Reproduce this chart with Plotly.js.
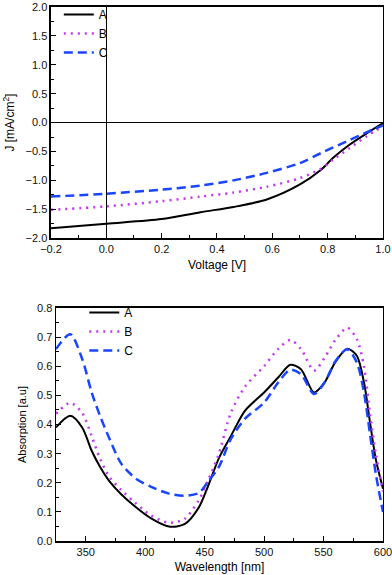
<!DOCTYPE html>
<html>
<head>
<meta charset="utf-8">
<script src="https://cdn.plot.ly/plotly-3.0.1.min.js"></script>
<style>body{margin:0;background:#fff}#chart{width:392px;height:575px}</style>
</head>
<body>
<div id="chart"></div>
<script>
// J-V curves
var voltage = [-0.2, 0, 0.2, 0.34, 0.46, 0.58, 0.70, 0.775, 0.82, 0.88, 0.94, 1.0];
var jA = [-1.83, -1.75, -1.67, -1.55, -1.46, -1.33, -1.07, -0.82, -0.61, -0.38, -0.19, -0.01];
var jB = [-1.51, -1.45, -1.36, -1.28, -1.21, -1.11, -0.96, -0.80, -0.64, -0.44, -0.24, -0.06];
var jC = [-1.28, -1.23, -1.16, -1.09, -1.00, -0.87, -0.70, -0.53, -0.43, -0.30, -0.17, -0.05];

// absorption spectra
var wavelength = [325, 337, 347, 355, 362, 370, 380, 392, 405, 420, 433, 445, 453, 462, 472, 484, 500, 512, 522, 531, 542, 551, 560, 570, 578, 584, 589, 594, 600];
var absA = [0.39, 0.43, 0.39, 0.31, 0.255, 0.205, 0.16, 0.117, 0.078, 0.05, 0.058, 0.115, 0.19, 0.285, 0.36, 0.448, 0.51, 0.562, 0.605, 0.59, 0.51, 0.545, 0.615, 0.66, 0.636, 0.545, 0.41, 0.28, 0.18];
var absB = [0.437, 0.474, 0.44, 0.36, 0.283, 0.22, 0.175, 0.13, 0.088, 0.063, 0.076, 0.14, 0.21, 0.30, 0.44, 0.53, 0.60, 0.66, 0.69, 0.659, 0.585, 0.63, 0.69, 0.732, 0.693, 0.60, 0.44, 0.30, 0.17];
var absC = [0.659, 0.71, 0.625, 0.51, 0.43, 0.351, 0.265, 0.215, 0.186, 0.163, 0.156, 0.165, 0.205, 0.255, 0.35, 0.42, 0.475, 0.545, 0.588, 0.573, 0.505, 0.545, 0.617, 0.658, 0.613, 0.51, 0.37, 0.23, 0.10];

var names = ['A', 'B', 'C'];
var styles = [
  {color: '#000000', width: 2, dash: 'solid'},
  {color: '#c535f5', width: 2.5, dash: '2px,5px'},
  {color: '#1a45ff', width: 2.5, dash: '9px,5px'}
];

var data = [];
[jA, jB, jC].forEach(function (ys, i) {
  data.push({x: voltage, y: ys, name: names[i], type: 'scatter', mode: 'lines',
    line: Object.assign({shape: 'spline', smoothing: 0.8}, styles[i]), legend: 'legend'});
});
[absA, absB, absC].forEach(function (ys, i) {
  data.push({x: wavelength, y: ys, name: names[i], type: 'scatter', mode: 'lines',
    xaxis: 'x2', yaxis: 'y2',
    line: Object.assign({shape: 'spline', smoothing: 0.8}, styles[i]), legend: 'legend2'});
});

var axisBase = {
  showgrid: false, showline: true, linecolor: '#000', linewidth: 1.5, mirror: true,
  ticks: 'inside', ticklen: 5, tickcolor: '#000', tickwidth: 1,
  tickfont: {size: 11, color: '#111'}, zeroline: false, ticklabeloverflow: 'allow'
};
function ax(extra) { return Object.assign({}, axisBase, extra); }

var layout = {
  width: 392, height: 575,
  margin: {t: 0, b: 0, l: 0, r: 0},
  paper_bgcolor: '#fff', plot_bgcolor: '#fff',
  font: {family: 'Arial, "Liberation Sans", sans-serif', size: 12, color: '#000'},
  showlegend: true,
  xaxis: ax({domain: [0.1301, 0.977], range: [-0.2, 1.0], dtick: 0.2, tickformat: '.1f',
    minor: {ticks: 'inside', ticklen: 3, tickcolor: '#000', dtick: 0.1},
    zeroline: true, zerolinecolor: '#000', zerolinewidth: 1.5,
    title: {text: 'Voltage [V]', font: {size: 12}, standoff: 6}, anchor: 'y'}),
  yaxis: ax({domain: [0.5878, 0.9913], range: [-2, 2], dtick: 0.5, tickformat: '.1f',
    minor: {ticks: 'inside', ticklen: 3, tickcolor: '#000', dtick: 0.25},
    zeroline: true, zerolinecolor: '#000', zerolinewidth: 1.5,
    title: {text: 'J [mA/cm<sup>2</sup>]', font: {size: 12}, standoff: 8}, anchor: 'x'}),
  xaxis2: ax({domain: [0.1429, 0.977], range: [325, 600], dtick: 50,
    minor: {ticks: 'inside', ticklen: 3, tickcolor: '#000', dtick: 25},
    title: {text: 'Wavelength [nm]', font: {size: 12}, standoff: 6}, anchor: 'y2'}),
  yaxis2: ax({domain: [0.0591, 0.4661], range: [0, 0.8], dtick: 0.1, tickformat: '.1f',
    minor: {ticks: 'inside', ticklen: 3, tickcolor: '#000', dtick: 0.05},
    title: {text: 'Absorption [a.u]', font: {size: 11}, standoff: 8}, anchor: 'x2'}),
  legend: {x: 0.15, y: 1.004, xanchor: 'left', yanchor: 'top', bgcolor: 'rgba(0,0,0,0)',
    font: {size: 12}, tracegroupgap: 0},
  legend2: {x: 0.215, y: 0.4835, xanchor: 'left', yanchor: 'top', bgcolor: 'rgba(0,0,0,0)',
    font: {size: 12}, tracegroupgap: 0}
};

var config = {displayModeBar: false, staticPlot: true};

Plotly.newPlot('chart', data, layout, config);
</script>
</body>
</html>
